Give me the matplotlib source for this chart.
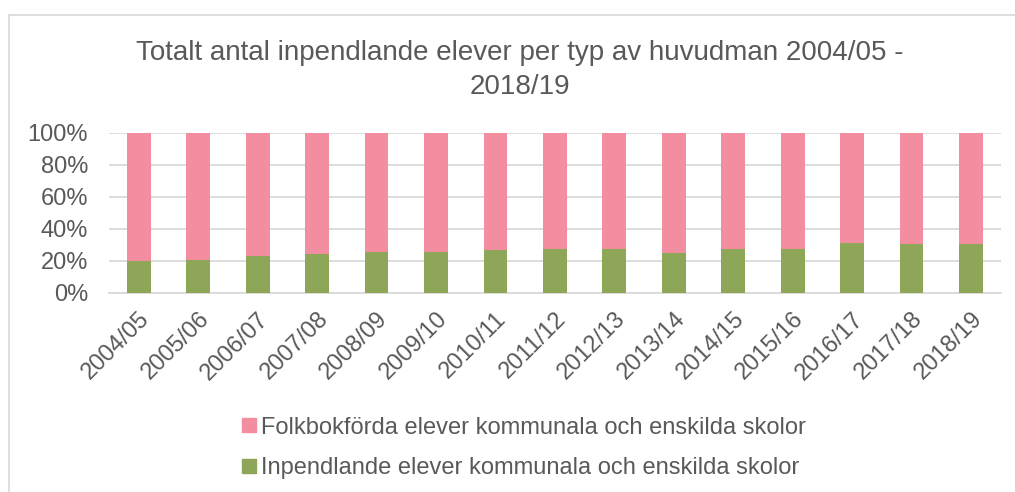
import matplotlib
matplotlib.use("Agg")
import matplotlib.pyplot as plt
from matplotlib.lines import Line2D

years = ["2004/05", "2005/06", "2006/07", "2007/08", "2008/09", "2009/10", "2010/11",
         "2011/12", "2012/13", "2013/14", "2014/15", "2015/16", "2016/17", "2017/18", "2018/19"]
# share of pupils (%)
inpendlande = [19.6, 20.4, 22.7, 24.2, 25.5, 25.5, 26.7, 27.1, 27.1, 25.0, 27.1, 27.1, 30.9, 30.3, 30.5]
folkbokforda = [80.4, 79.6, 77.3, 75.8, 74.5, 74.5, 73.3, 72.9, 72.9, 75.0, 72.9, 72.9, 69.1, 69.7, 69.5]

PINK = "#F28E9F"
GREEN = "#8DA658"
GRID = "#D9D9D9"
TXT = "#595959"

plt.rcParams["font.family"] = ["Liberation Sans", "DejaVu Sans"]

fig = plt.figure(figsize=(10.15, 4.92), dpi=100)
ax = fig.add_axes([109/1015, 1 - 292.7/492, (1000.7 - 109)/1015, 160/492])

x = range(len(years))
ax.bar(x, inpendlande, width=0.4, color=GREEN, zorder=3,
       label="Inpendlande elever kommunala och enskilda skolor")
ax.bar(x, folkbokforda, width=0.4, bottom=inpendlande, color=PINK, zorder=3,
       label="Folkbokförda elever kommunala och enskilda skolor")

ax.set_xlim(-0.5, len(years) - 0.5)
ax.set_ylim(0, 100)
ax.set_yticks(range(0, 101, 20))
ax.set_yticklabels([f"{v}%" for v in range(0, 101, 20)])
ax.yaxis.grid(True, color=GRID, linewidth=1.3, zorder=0)
ax.set_xticks(list(x))
ax.set_xticklabels(years, rotation=45, ha="right", va="top", rotation_mode="anchor")
ax.tick_params(axis="both", length=0, labelsize=17, labelcolor=TXT)
ax.tick_params(axis="y", pad=15)
ax.tick_params(axis="x", pad=11)
for s in ["top", "right", "left"]:
    ax.spines[s].set_visible(False)
ax.spines["bottom"].set_color(GRID)
ax.spines["bottom"].set_linewidth(1.3)

fig.text(0.512, 1 - 70/492, "Totalt antal inpendlande elever per typ av huvudman 2004/05 -\n2018/19",
         ha="center", va="center", fontsize=20, color=TXT, linespacing=1.35)

handles = [Line2D([], [], marker="s", linestyle="none", markersize=10, color=PINK),
           Line2D([], [], marker="s", linestyle="none", markersize=10, color=GREEN)]
labels = ["Folkbokförda elever kommunala och enskilda skolor",
          "Inpendlande elever kommunala och enskilda skolor"]
fig.legend(handles, labels, loc="center left", bbox_to_anchor=(216/1015, 1 - 448/492),
           frameon=False, fontsize=17, labelcolor=TXT, handletextpad=0.0,
           handlelength=1.0, labelspacing=0.8)

# chart area border
fig.add_artist(Line2D([9/1015, 9/1015], [0, 1 - 15/492], color=GRID, linewidth=1.2))
fig.add_artist(Line2D([9/1015, 1], [1 - 15/492, 1 - 15/492], color=GRID, linewidth=1.2))

fig.savefig("out.png", dpi=100)
plt.close(fig)
